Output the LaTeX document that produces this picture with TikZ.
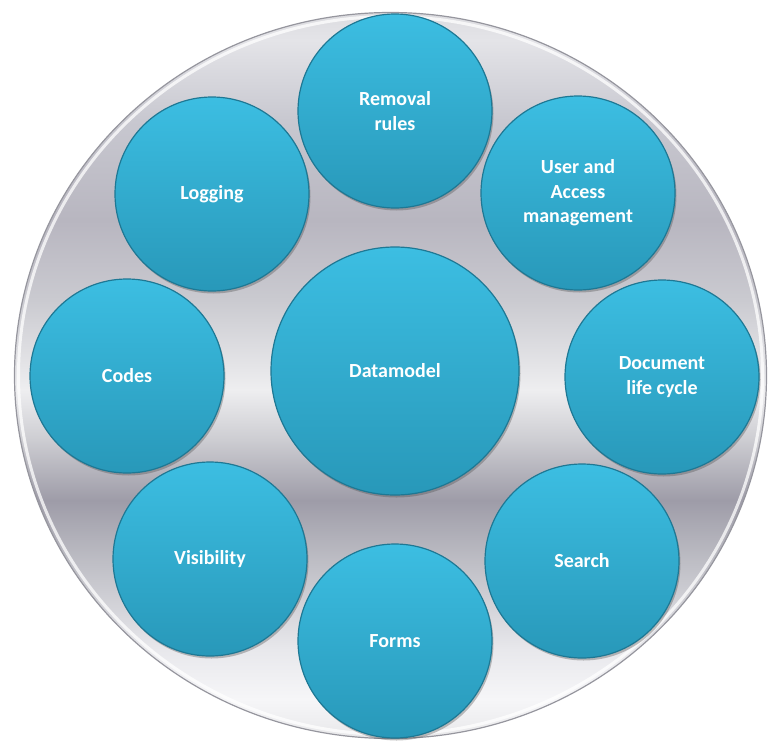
\documentclass[tikz,border=0pt]{standalone}
\usepackage{fontspec}
\setmainfont{Carlito}
\usetikzlibrary{shadows}
\definecolor{blueTop}{RGB}{60,190,226}
\definecolor{blueBot}{RGB}{40,152,185}
\definecolor{blueEdge}{RGB}{30,120,148}
\definecolor{rimGray}{RGB}{150,150,158}
\pgfdeclareverticalshading{bgsh}{100bp}{%
  color(0bp)=(white);
  color(25bp)=(rgb,255:red,232;green,232;blue,234);
  color(27.7bp)=(rgb,255:red,246;green,246;blue,248);
  color(31.1bp)=(rgb,255:red,232;green,232;blue,236);
  color(37.3bp)=(rgb,255:red,189;green,189;blue,196);
  color(41.4bp)=(rgb,255:red,158;green,156;blue,168);
  color(45.6bp)=(rgb,255:red,205;green,205;blue,210);
  color(49bp)=(rgb,255:red,238;green,238;blue,240);
  color(55.2bp)=(rgb,255:red,202;green,202;blue,208);
  color(60.7bp)=(rgb,255:red,184;green,182;blue,192);
  color(67.6bp)=(rgb,255:red,200;green,200;blue,208);
  color(73.1bp)=(rgb,255:red,228;green,228;blue,232);
  color(75bp)=(rgb,255:red,220;green,220;blue,224);
  color(100bp)=(white)}
\tikzset{
  bubble/.style={circle, inner sep=0pt, minimum size=194pt, align=center,
    top color=blueTop, bottom color=blueBot, draw=blueEdge, line width=1.2pt,
    text=white, font=\bfseries\fontsize{20}{24.5}\selectfont,
    drop shadow={shadow xshift=1.5pt, shadow yshift=-2.5pt, opacity=0.35, fill=black!70}},
  bigbubble/.style={bubble, minimum size=248pt},
  plate/.style={shading=bgsh, draw=rimGray, line width=1.2pt}
}
\begin{document}
\begin{tikzpicture}[x=1pt,y=-1pt]
\useasboundingbox (0,0) rectangle (769,742);
% background plate
\path[plate] (390.5,375.5) ellipse [x radius=376, y radius=363];
\draw[white, line width=3pt, opacity=0.75] (390.5,375.5) ellipse [x radius=372, y radius=359];
% bubbles
\node[bubble] (rem) at (395,111) {Removal\\rules};
\node[bubble] (log) at (212,194) {Logging};
\node[bubble] (usr) at (578,193) {User and\\Access\\management};
\node[bubble] (cod) at (127,376) {Codes};
\node[bigbubble] (dat) at (395,371) {Datamodel};
\node[bubble] (doc) at (662,377) {Document\\life cycle};
\node[bubble] (vis) at (210,559) {Visibility};
\node[bubble] (sea) at (582,561) {Search};
\node[bubble] (frm) at (395,641) {Forms};
\end{tikzpicture}
\end{document}
